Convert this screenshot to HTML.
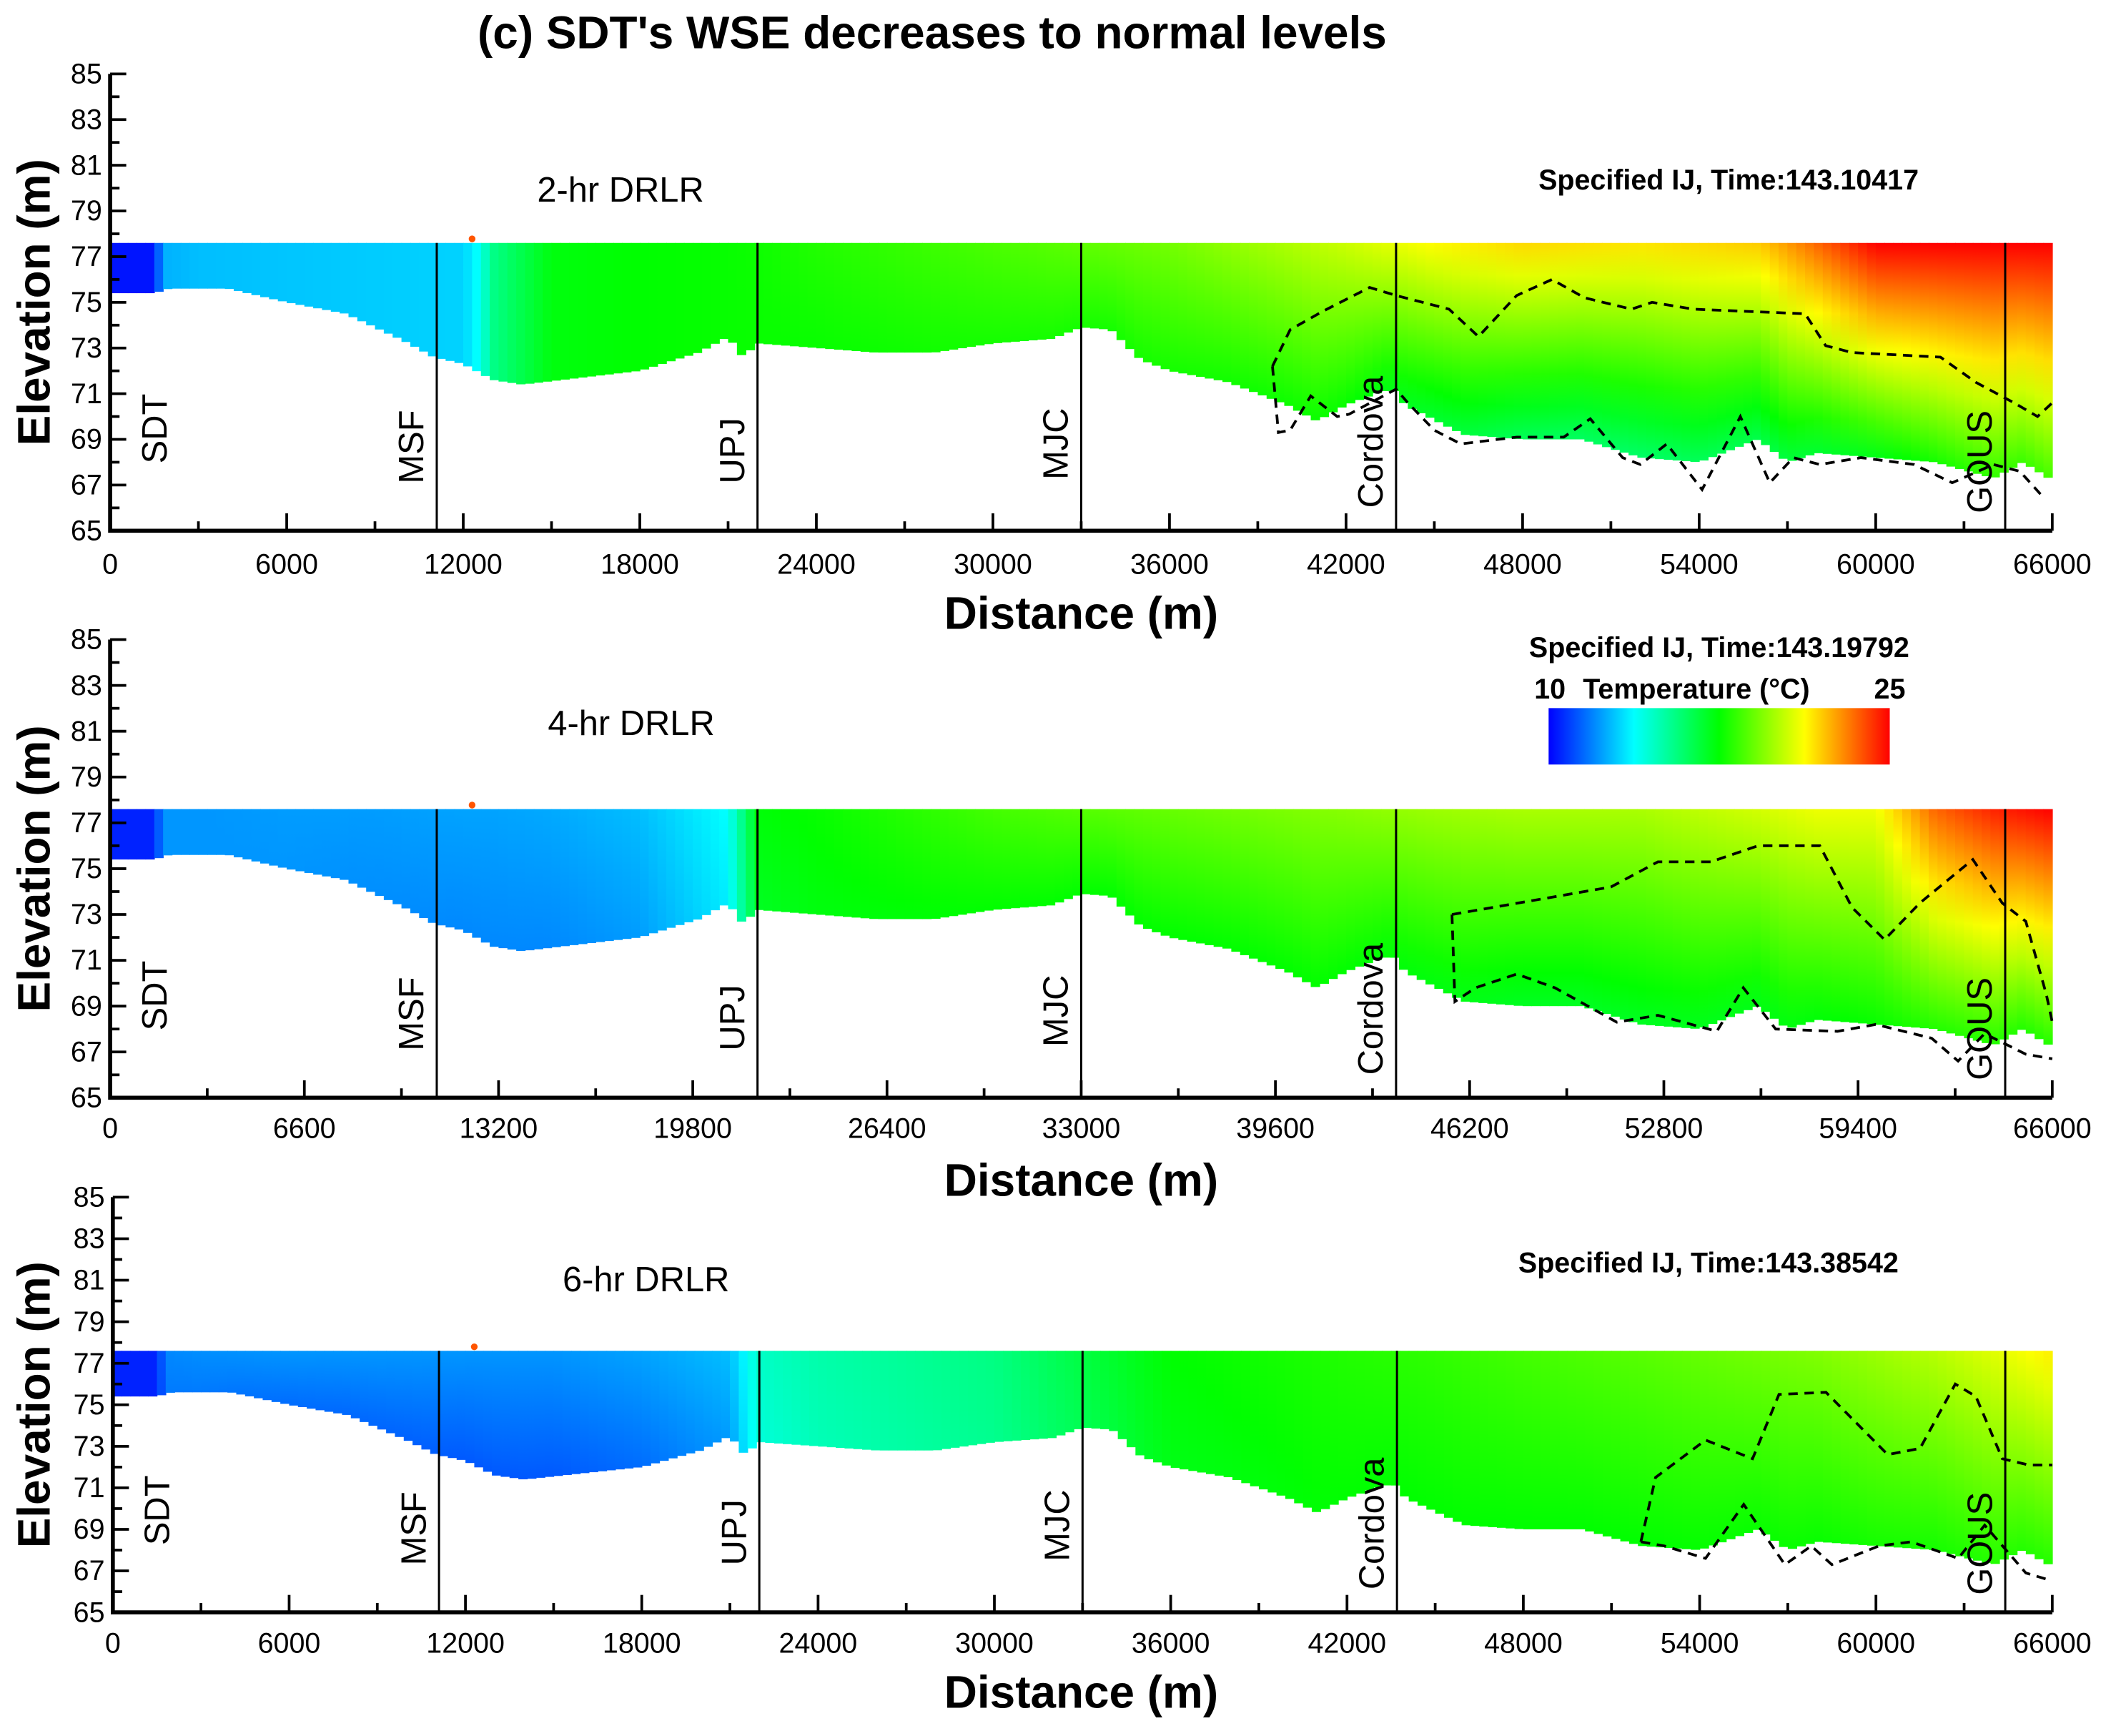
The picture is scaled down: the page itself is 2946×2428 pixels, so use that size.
<!DOCTYPE html>
<html><head><meta charset="utf-8">
<style>
html,body{margin:0;padding:0;background:#fff;}
svg{display:block;font-family:"Liberation Sans",Arial,sans-serif;}
</style></head>
<body>
<svg id="fig" width="2946" height="2428" viewBox="0 0 1568 1292" preserveAspectRatio="none" xmlns="http://www.w3.org/2000/svg">
<defs id="defs"></defs>
<text x="694" y="36" text-anchor="middle" font-size="34" font-weight="bold">(c) SDT's WSE decreases to normal levels</text>
</svg>
<script>
// ---- data ----
const bedDist = [0,1500,2000,4000,6000,8000,10000,11000,12000,13000,14000,16000,18000,20000,21000,21500,22000,24000,26000,28000,30000,32000,33000,34000,35000,36000,38000,40000,41000,42000,43000,43600,44000,46000,48000,50000,52000,54000,56000,57000,58000,60000,62000,64000,65000,66000];
const bedElev = [75.4,75.4,75.6,75.6,75.0,74.5,73.3,72.6,72.3,71.6,71.4,71.7,72.0,72.8,73.5,72.6,73.2,73.0,72.8,72.8,73.2,73.4,73.9,73.8,72.5,72.0,71.5,70.5,69.8,70.5,71.0,71.2,70.5,69.2,69.0,69.0,68.2,68.0,69.0,68.0,68.4,68.2,68.0,67.3,68.0,67.2];
const surfaceElev = 77.6;
const tempDist = [0,1500,1800,3000,6000,9000,12000,12500,13000,15000,18000,21000,22000,24000,30000,36000,42000,45000,48000,52000,56000,58000,60000,62000,64000,66000];
const p1Top = [10.3,10.3,12.6,12.8,12.9,13.0,13.1,13.8,15.5,17.3,17.5,17.6,17.7,18.0,18.6,19.2,20.5,21.3,21.8,21.6,22.0,23.5,25,25,25,25];
const p1Bot = [10.3,10.3,12.6,12.8,12.9,13.0,13.1,13.8,15.5,17.3,17.5,17.6,17.6,17.6,17.8,17.8,17.6,16.8,16.2,16.0,16.4,16.8,17.2,17.8,18.2,18.5];
const p2Top = [10.5,10.5,12.2,12.2,12.3,12.3,12.4,12.4,12.4,12.5,12.8,13.8,17.4,17.6,18.5,19.0,19.5,19.8,20.0,20.0,20.6,21.0,21.0,23.5,24.5,25];
const p2Bot = [10.5,10.5,12.2,12.2,12.2,12.1,12.0,12.0,12.0,12.0,12.3,13.5,17.0,17.3,17.5,17.5,17.5,17.3,17.0,17.0,17.2,17.4,17.6,18.0,18.0,18.0];
const p3Top = [10.5,10.5,12.0,12.1,12.2,12.2,12.2,12.2,12.2,12.2,12.4,12.8,14.6,15.0,15.6,17.5,18.0,18.2,18.5,18.8,19.2,19.4,19.8,20.2,20.8,21.5];
const p3Bot = [10.5,10.5,11.8,11.8,11.6,11.5,11.3,11.3,11.3,11.3,11.6,12.3,14.3,14.8,15.4,17.2,17.5,17.5,17.5,17.5,17.6,17.6,17.8,17.8,18.0,18.0];
const stationNames = ["MSF","UPJ","MJC","Cordova","GOUS"];
const stationDist = [11100,22000,33000,43700,64400];
const p1UpD = [39500,40100,41200,42800,43700,45500,46500,47800,49000,50100,51700,52400,53800,57600,58300,59200,62200,63400,64700,65500,66000];
const p1UpE = [72.2,73.8,74.6,75.65,75.3,74.7,73.5,75.3,76.0,75.2,74.7,75.0,74.7,74.5,73.1,72.8,72.6,71.5,70.6,70.0,70.6];
const p1LoD = [39500,39700,40100,40800,41700,42100,43700,44100,45000,45900,47800,49400,50300,51400,52000,52900,54100,55400,56400,57200,58100,59500,61300,62600,64000,64900,65600];
const p1LoE = [72.2,69.3,69.4,70.9,70.0,70.1,71.2,70.6,69.4,68.8,69.1,69.1,69.9,68.2,67.9,68.8,66.8,70.0,67.1,68.2,67.9,68.2,67.9,67.1,67.9,67.6,66.6];
const p2UpD = [45600,51000,52600,54400,56000,58100,59200,60300,61500,63300,64300,65100,65800,66000];
const p2UpE = [73.0,74.2,75.3,75.3,76.0,76.0,73.3,71.9,73.5,75.4,73.5,72.7,69.5,68.3];
const p2LoD = [45600,45700,46400,47800,49100,51200,52600,54600,55500,56600,58700,60000,61900,62800,63700,65100,66000];
const p2LoE = [73.0,69.2,69.8,70.4,69.8,68.3,68.6,67.9,69.8,68.0,67.9,68.2,67.6,66.6,67.8,66.9,66.7];
const p3UpD = [52000,52500,54200,55800,56700,58300,60400,61500,62700,63400,64300,65200,66000];
const p3UpE = [68.4,71.5,73.3,72.4,75.5,75.6,72.6,72.9,76.0,75.4,72.4,72.1,72.1];
const p3LoD = [52000,52800,54200,55500,56900,57800,58500,60100,61200,62800,63700,65100,65800];
const p3LoE = [68.4,68.2,67.6,70.2,67.3,68.2,67.3,68.2,68.4,67.6,69.2,66.9,66.6];

const NS="http://www.w3.org/2000/svg";
const svg=document.getElementById('fig');
const defs=document.getElementById('defs');
function mk(tag,attrs,parent){const e=document.createElementNS(NS,tag);for(const k in attrs)e.setAttribute(k,attrs[k]);(parent||svg).appendChild(e);return e;}
function interp(xs,ys,x){if(x<=xs[0])return ys[0];for(let i=1;i<xs.length;i++){if(x<=xs[i]){const t=(x-xs[i-1])/(xs[i]-xs[i-1]);return ys[i-1]+t*(ys[i]-ys[i-1]);}}return ys[ys.length-1];}
const cmapT=[10,13.75,17.5,21.25,25];
const cmapC=[[0,0,255],[0,255,255],[0,255,0],[255,255,0],[255,0,0]];
function col(t){t=Math.max(10,Math.min(25,t));let i=1;while(i<cmapT.length-1&&t>cmapT[i])i++;const f=(t-cmapT[i-1])/(cmapT[i]-cmapT[i-1]);const a=cmapC[i-1],b=cmapC[i];return `rgb(${Math.round(a[0]+f*(b[0]-a[0]))},${Math.round(a[1]+f*(b[1]-a[1]))},${Math.round(a[2]+f*(b[2]-a[2]))})`;}

const panels=[
 {id:'p1',top:55,bot:395,left:82,right:1528,xStep:6000,tTop:p1Top,tBot:p1Bot,label:'2-hr DRLR',lx:462,ly:150,spec:'Specified IJ, Time:143.10417',sx:1287,sy:141,upD:p1UpD,upE:p1UpE,loD:p1LoD,loE:p1LoE,tickY:427,titleY:468},
 {id:'p2',top:476,bot:817,left:82,right:1528,xStep:6600,tTop:p2Top,tBot:p2Bot,label:'4-hr DRLR',lx:470,ly:547,spec:'Specified IJ, Time:143.19792',sx:1280,sy:489,upD:p2UpD,upE:p2UpE,loD:p2LoD,loE:p2LoE,tickY:847,titleY:890},
 {id:'p3',top:891,bot:1200,left:84,right:1528,xStep:6000,tTop:p3Top,tBot:p3Bot,label:'6-hr  DRLR',lx:481,ly:961,spec:'Specified IJ, Time:143.38542',sx:1272,sy:947,upD:p3UpD,upE:p3UpE,loD:p3LoD,loE:p3LoE,tickY:1230,titleY:1271}
];
const stOff=[35,35,38,17,13];

panels.forEach((P,pi)=>{
  const g=mk('g',{});
  
  
  const X=d=>P.left+(d/66000)*(P.right-P.left);
  const Y=e=>P.bot-(e-65)/20*(P.bot-P.top);
  const field=mk('g',{},g);
  
  
  const step=300;
  for(let d=0;d<66000;d+=step){
    const dm=d+step/2;
    const bed=interp(bedDist,bedElev,dm);
    const gid=P.id+'g'+d;
    const tt=interp(tempDist,P.tTop,dm), tb=interp(tempDist,P.tBot,dm);
    const lg=mk('linearGradient',{id:gid,x1:0,y1:0,x2:0,y2:1},defs);
    for(let k=0;k<=6;k++){const f=k/6;mk('stop',{offset:f,'stop-color':col(tt+(tb-tt)*f)},lg);}
    const r=mk('rect',{x:X(d),y:Y(surfaceElev),width:X(d+step)-X(d)+0.4,height:Y(bed)-Y(surfaceElev),fill:`url(#${gid})`},field);
    
    
  }
  const dot=mk('circle',{cx:X(12300),cy:Y(surfaceElev)-3,r:2.5,fill:'#ff5500'},g);
  
  
  [[P.upD,P.upE],[P.loD,P.loE]].forEach((L,k)=>{
    const pts=L[0].map((d,i)=>X(d)+','+Y(L[1][i])).join(' ');
    const pl=mk('polyline',{points:pts,fill:'none',stroke:'#000','stroke-width':2,'stroke-dasharray':'7,5'},g);
    
    
  });
  stationDist.forEach((d,i)=>{
    const ln=mk('line',{x1:X(d),x2:X(d),y1:Y(77.6),y2:P.bot,stroke:'#000','stroke-width':1.6},g);
    
    
    const tx=X(d)-10, ty=P.bot-stOff[i];
    const t=mk('text',{x:tx,y:ty,transform:`rotate(-90 ${tx} ${ty})`,'font-size':26},g);
    t.textContent=stationNames[i];
    
    
  });
  const sdtX=P.left+42, sdtY=P.bot-50;
  const sdt=mk('text',{x:sdtX,y:sdtY,transform:`rotate(-90 ${sdtX} ${sdtY})`,'font-size':26},g);
  sdt.textContent='SDT';
  
  
  const ax=mk('path',{d:`M${P.left},${P.top} V${P.bot} H${P.right}`,fill:'none',stroke:'#000','stroke-width':3},g);
  
  
  for(let e=65;e<=85;e++){
    const major=e%2===1;
    const tk=mk('line',{x1:P.left,x2:P.left+(major?12:7),y1:Y(e),y2:Y(e),stroke:'#000','stroke-width':2},g);
    
    
    if(major){
      const t=mk('text',{x:P.left-6,y:Y(e)+7,'text-anchor':'end','font-size':21},g);
      t.textContent=e;
      
      
    }
  }
  for(let d=0;d<=66000;d+=P.xStep/2){
    const major=(d%P.xStep)===0;
    const tk=mk('line',{x1:X(d),x2:X(d),y1:P.bot,y2:P.bot-(major?13:7),stroke:'#000','stroke-width':2},g);
    
    
    if(major){
      const t=mk('text',{x:X(d),y:P.tickY,'text-anchor':'middle','font-size':21},g);
      t.textContent=d;
      
      
    }
  }
  const xt=mk('text',{x:805,y:P.titleY,'text-anchor':'middle','font-size':34,'font-weight':'bold'},g);
  xt.textContent='Distance (m)';
  
  
  const ycy=(P.top+P.bot)/2;
  const yt=mk('text',{x:37,y:ycy,transform:`rotate(-90 37 ${ycy})`,'text-anchor':'middle','font-size':34,'font-weight':'bold'},g);
  yt.textContent='Elevation (m)';
  
  
  const lb=mk('text',{x:P.lx,y:P.ly,'text-anchor':'middle','font-size':26},g);
  lb.textContent=P.label;
  
  
  const sp=mk('text',{x:P.sx,y:P.sy,'text-anchor':'middle','font-size':21,'font-weight':'bold'},g);
  sp.textContent=P.spec;
  
  
});
const cg=mk('linearGradient',{id:'cbar',x1:0,y1:0,x2:1,y2:0},defs);
cmapT.forEach((t,i)=>mk('stop',{offset:(t-10)/15,'stop-color':col(t)},cg));
const cb=mk('rect',{x:1153,y:527,width:254,height:42,fill:'url(#cbar)'});


const cmin=mk('text',{x:1154,y:520,'text-anchor':'middle','font-size':21,'font-weight':'bold'});
cmin.textContent='10';


const ctit=mk('text',{x:1263,y:520,'text-anchor':'middle','font-size':21,'font-weight':'bold'});
ctit.textContent='Temperature (°C)';


const cmax=mk('text',{x:1407,y:520,'text-anchor':'middle','font-size':21,'font-weight':'bold'});
cmax.textContent='25';


</script>
</body></html>
